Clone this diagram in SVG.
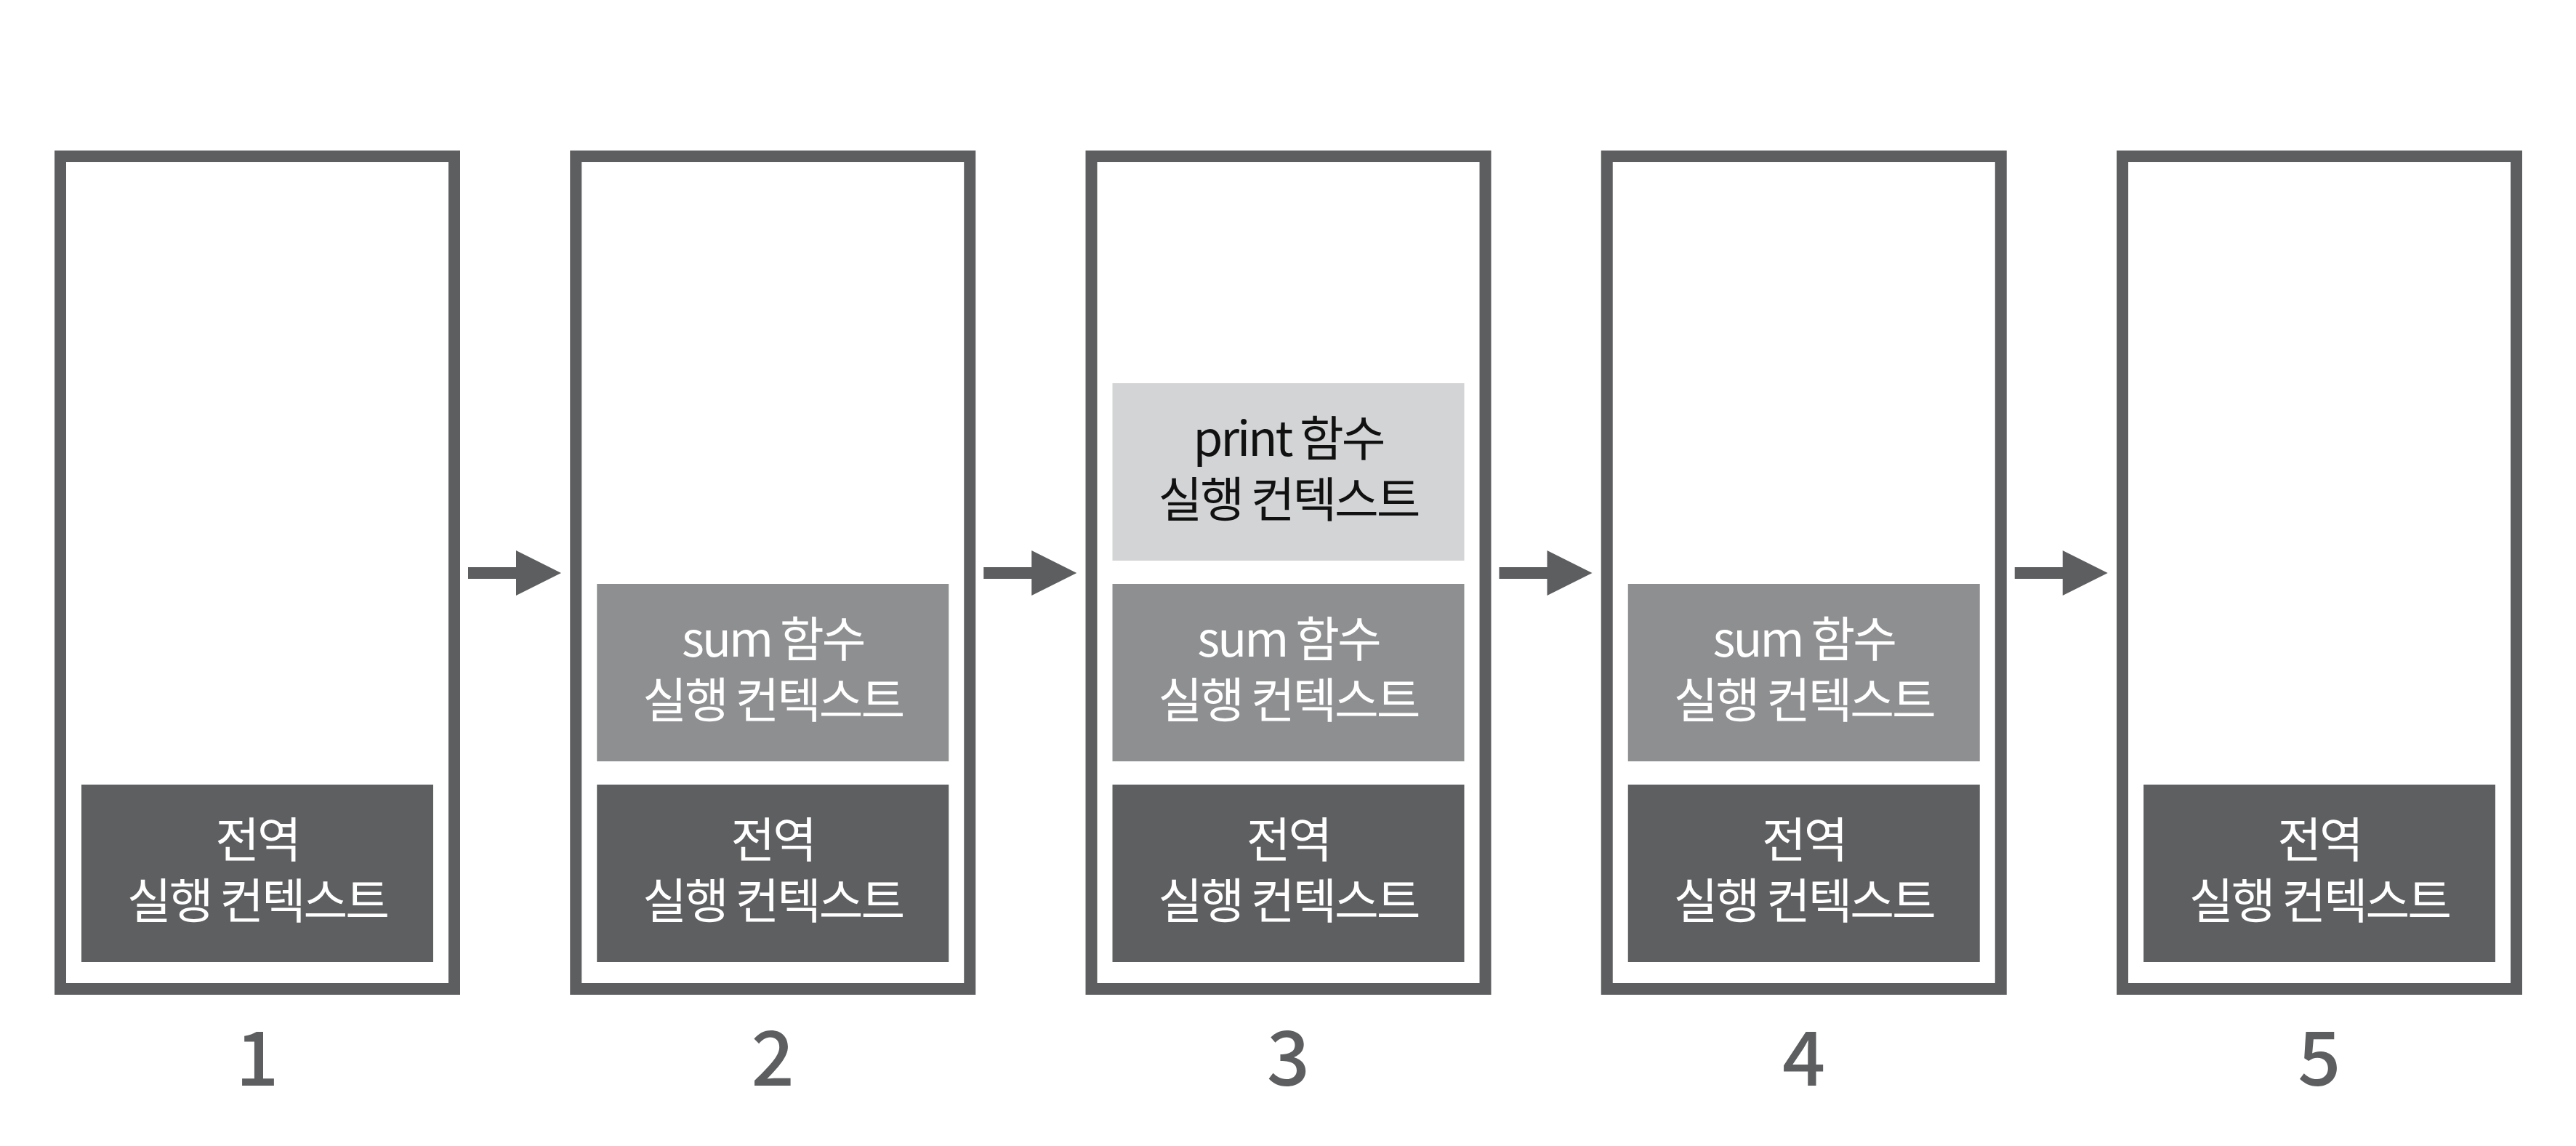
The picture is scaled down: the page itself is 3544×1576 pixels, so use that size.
<svg xmlns="http://www.w3.org/2000/svg" width="3544" height="1576" viewBox="0 0 3544 1576">
<style>
.frame{fill:none;stroke:#5d5e60;stroke-width:16}
.g{fill:#5e5f61}
.s{fill:#8e8f91}
.p{fill:#d3d4d6}
.t{font-family:"Noto Sans CJK KR","Noto Sans",sans-serif;font-size:66px;letter-spacing:-3px;text-anchor:middle}
.w{fill:#ffffff}
.k{fill:#111111}
.n{font-family:"Noto Sans CJK KR","Noto Sans",sans-serif;font-size:104px;font-weight:500;fill:#5d5e60;text-anchor:middle}
.arr{fill:#5d5e60}
</style>
<rect width="3544" height="1576" fill="#ffffff"/>
<defs>
<g id="glob"><rect class="g" x="0" y="0" width="484" height="244"/><text class="t w" x="242" y="100">전역</text><text class="t w" x="242" y="184">실행 컨텍스트</text></g>
<g id="sumc"><rect class="s" x="0" y="0" width="484" height="244"/><text class="t w" x="242" y="100">sum 함수</text><text class="t w" x="242" y="184">실행 컨텍스트</text></g>
<g id="prnc"><rect class="p" x="0" y="0" width="484" height="244"/><text class="t k" x="242" y="100">print 함수</text><text class="t k" x="242" y="184">실행 컨텍스트</text></g>
</defs>
<g id="stack1">
<rect class="frame" x="83" y="215" width="542" height="1145"/>
<use href="#glob" x="112" y="1079"/>
<text class="n" x="354" y="1493">1</text>
</g>
<g id="stack2">
<rect class="frame" x="792.25" y="215" width="542" height="1145"/>
<use href="#sumc" x="821.25" y="803"/>
<use href="#glob" x="821.25" y="1079"/>
<text class="n" x="1063.25" y="1493">2</text>
</g>
<g id="stack3">
<rect class="frame" x="1501.5" y="215" width="542" height="1145"/>
<use href="#prnc" x="1530.5" y="527"/>
<use href="#sumc" x="1530.5" y="803"/>
<use href="#glob" x="1530.5" y="1079"/>
<text class="n" x="1772.5" y="1493">3</text>
</g>
<g id="stack4">
<rect class="frame" x="2210.75" y="215" width="542" height="1145"/>
<use href="#sumc" x="2239.75" y="803"/>
<use href="#glob" x="2239.75" y="1079"/>
<text class="n" x="2481.75" y="1493">4</text>
</g>
<g id="stack5">
<rect class="frame" x="2920" y="215" width="542" height="1145"/>
<use href="#glob" x="2949" y="1079"/>
<text class="n" x="3191" y="1493">5</text>
</g>
<g id="connectors">
<path class="arr" d="M644 780 H710 V757 L772 788 L710 819 V796 H644 Z"/>
<path class="arr" transform="translate(709.25 0)" d="M644 780 H710 V757 L772 788 L710 819 V796 H644 Z"/>
<path class="arr" transform="translate(1418.5 0)" d="M644 780 H710 V757 L772 788 L710 819 V796 H644 Z"/>
<path class="arr" transform="translate(2127.75 0)" d="M644 780 H710 V757 L772 788 L710 819 V796 H644 Z"/>
</g>
</svg>
